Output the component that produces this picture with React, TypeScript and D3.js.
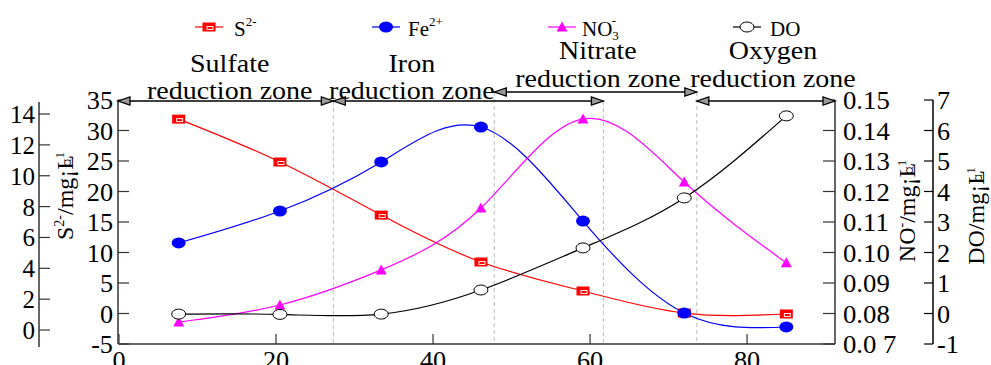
import React from "react";
import * as d3 from "d3";

// ---- data ----
const distance = [7.6, 20.5, 33.4, 46.1, 59.1, 72.0, 85.0];
const sulfide = [13.67, 10.89, 7.45, 4.41, 2.53, 1.1, 1.04]; // S2- mg/L
const iron = [11.56, 16.8, 24.84, 30.57, 15.16, 0.08, -2.21]; // Fe2+ mg/L
const nitrate = [0.0772, 0.0828, 0.0943, 0.1146, 0.1438, 0.1231, 0.0966]; // NO3- mg/L
const oxygen = [-0.02, -0.03, -0.02, 0.77, 2.15, 3.79, 6.48]; // DO mg/L

const xTicks = [0, 20, 40, 60, 80];
const feTicks = [-5, 0, 5, 10, 15, 20, 25, 30, 35];
const sTicks = [0, 2, 4, 6, 8, 10, 12, 14];
const no3Ticks = [0.07, 0.08, 0.09, 0.1, 0.11, 0.12, 0.13, 0.14, 0.15];
const no3Labels = ["0.0 7", "0.08", "0.09", "0.10", "0.11", "0.12", "0.13", "0.14", "0.15"];
const doTicks = [-1, 0, 1, 2, 3, 4, 5, 6, 7];

const zoneBounds = [27.3, 47.8, 61.7, 73.6];
const zoneNames = ["Sulfate", "Iron", "Nitrate", "Oxygen"];
const zoneLabelX = [14.1, 37.3, 61.0, 83.3];
const zoneStart = [0, 27.3, 47.8, 73.6];
const zoneEnd = [27.3, 61.7, 73.6, 91.2];
const zoneRow = [0, 0, 1, 0];

const FONT = "'Liberation Serif', 'Times New Roman', serif";

const Square = ({ x, y }: { x: number; y: number }) => (
  <g>
    <rect x={x - 6.5} y={y - 4.5} width={13} height={9} fill="#ff0000" />
    <rect x={x - 2} y={y - 0.5} width={6} height={3} fill="none" stroke="#fff" strokeWidth={0.9} />
  </g>
);
const Dot = ({ x, y }: { x: number; y: number }) => (
  <ellipse cx={x} cy={y} rx={7} ry={5.5} fill="#0000ff" />
);
const Tri = ({ x, y }: { x: number; y: number }) => (
  <path d={`M${x},${y - 5.5}L${x + 5.5},${y + 4.5}L${x - 5.5},${y + 4.5}Z`} fill="#ff00ff" />
);
const Circ = ({ x, y }: { x: number; y: number }) => (
  <ellipse cx={x} cy={y} rx={7} ry={5} fill="#fff" stroke="#000" strokeWidth={1} />
);

const T = ({
  x, y, anchor = "middle", size = 25, sx = 1.12, children,
}: { x: number; y: number; anchor?: string; size?: number; sx?: number; children: any }) => (
  <text transform={`translate(${x},${y}) scale(${sx},1)`} textAnchor={anchor as any} fontSize={size} fontFamily={FONT} fill="#000">
    {children}
  </text>
);

export default function App() {
  const W = 991, H = 365;
  const x = d3.scaleLinear().domain([0, 91.2]).range([119, 835]);
  const yFe = d3.scaleLinear().domain([-5, 35]).range([344, 100]);
  const yS = d3.scaleLinear().domain([-1.1, 14.78]).range([347, 102]);
  const yN = d3.scaleLinear().domain([0.07, 0.15]).range([344, 100]);
  const yD = d3.scaleLinear().domain([-1, 7]).range([344, 100]);

  const mk = (ys: number[], sc: d3.ScaleLinear<number, number>) =>
    d3.line<number>().x((_, i) => x(distance[i])).y((d) => sc(d)).curve(d3.curveNatural)(ys) || "";

  const rowY = [101, 92];
  const arrowHead = (tx: number, ty: number, dir: number) =>
    `M${tx},${ty}L${tx - dir * 12},${ty - 4}L${tx - dir * 12},${ty + 4}Z`;

  const legend = [
    { mx: 209, tx: 234, color: "#ff0000", M: Square, label: <><tspan>S</tspan><tspan dy={-10} fontSize={13}>2-</tspan></> },
    { mx: 386, tx: 408, color: "#0000ff", M: Dot, label: <><tspan>Fe</tspan><tspan dy={-10} fontSize={13}>2+</tspan></> },
    { mx: 562, tx: 582, color: "#ff00ff", M: Tri, label: <><tspan>NO</tspan><tspan dy={4} fontSize={13}>3</tspan><tspan dx={-7} dy={-15} fontSize={13}>-</tspan></> },
    { mx: 747, tx: 770, color: "#000", M: Circ, label: <><tspan>DO</tspan></> },
  ];

  const unit = (
    <>
      <tspan>/mg¡</tspan>
      <tspan>L</tspan>
      <tspan dx={-12} fontSize={17}>¤</tspan>
      <tspan dy={-9} fontSize={13}>1</tspan>
    </>
  );

  const axisColor = "#333";

  return (
    <svg width={W} height={H} style={{ position: "absolute", left: 0, top: 0, background: "#fff" }}>
      {/* dashed zone dividers */}
      {zoneBounds.map((b, i) => (
        <line key={i} x1={x(b)} x2={x(b)} y1={i === 1 || i === 3 ? 92 : 101} y2={344} stroke="#bbb" strokeWidth={1} strokeDasharray="4,3" />
      ))}

      {/* bottom x axis */}
      <line x1={119} x2={835} y1={344} y2={344} stroke={axisColor} strokeWidth={1.5} />
      {xTicks.map((t) => (
        <g key={t}>
          <line x1={x(t)} x2={x(t)} y1={344} y2={334} stroke={axisColor} strokeWidth={1.2} />
          <T x={x(t)} y={369} size={25} sx={1.05}>{t}</T>
        </g>
      ))}

      {/* Fe axis (left) */}
      <line x1={118} x2={118} y1={yFe(35)} y2={344} stroke={axisColor} strokeWidth={1.5} />
      {feTicks.map((t) => (
        <g key={t}>
          <line x1={118} x2={129} y1={yFe(t)} y2={yFe(t)} stroke={axisColor} strokeWidth={1.2} />
          <T x={113} y={yFe(t) + 9} anchor="end" size={25} sx={1.05}>{t}</T>
        </g>
      ))}

      {/* S axis (far left) */}
      <line x1={39} x2={39} y1={102} y2={347} stroke={axisColor} strokeWidth={1.5} />
      {sTicks.map((t) => (
        <g key={t}>
          <line x1={39} x2={50} y1={yS(t)} y2={yS(t)} stroke={axisColor} strokeWidth={1.2} />
          <T x={35} y={yS(t) + 9} anchor="end" size={25} sx={1.0}>{t}</T>
        </g>
      ))}

      {/* NO3 axis (right) */}
      <line x1={835} x2={835} y1={100} y2={344} stroke={axisColor} strokeWidth={1.5} />
      {no3Ticks.map((t, i) => (
        <g key={t}>
          <line x1={835} x2={823} y1={yN(t)} y2={yN(t)} stroke={axisColor} strokeWidth={1.2} />
          <T x={843} y={yN(t) + 9} anchor="start" size={25} sx={1.07}>{no3Labels[i]}</T>
        </g>
      ))}

      {/* DO axis (far right) */}
      <line x1={933} x2={933} y1={100} y2={344} stroke="#000" strokeWidth={1.5} />
      {doTicks.map((t) => (
        <g key={t}>
          <line x1={933} x2={924} y1={yD(t)} y2={yD(t)} stroke="#000" strokeWidth={1.2} />
          <T x={937} y={yD(t) + 9} anchor="start" size={25} sx={1.05}>{t}</T>
        </g>
      ))}

      {/* axis titles */}
      <text transform="translate(73,196) rotate(-90)" textAnchor="middle" fontSize={24} fontFamily={FONT}>
        <tspan>S</tspan><tspan dy={-9} fontSize={14}>2-</tspan><tspan dy={9}>/mg¡</tspan><tspan>L</tspan><tspan dx={-12} fontSize={17}>¤</tspan><tspan dy={-9} fontSize={13}>1</tspan>
      </text>
      <text transform="translate(915,211) rotate(-90)" textAnchor="middle" fontSize={24} fontFamily={FONT}>
        <tspan>NO</tspan><tspan dy={-9} fontSize={14}>-</tspan><tspan dy={9}>/mg¡</tspan><tspan>L</tspan><tspan dx={-12} fontSize={17}>¤</tspan><tspan dy={-9} fontSize={13}>1</tspan>
      </text>
      <text transform="translate(984,216) rotate(-90)" textAnchor="middle" fontSize={24} fontFamily={FONT}>
        <tspan>DO</tspan>{unit}
      </text>

      {/* zone arrows */}
      {zoneNames.map((n, i) => {
        const y0 = rowY[zoneRow[i]];
        const a = x(zoneStart[i]) - (i === 0 ? 1 : 0);
        const b = x(zoneEnd[i]);
        return (
          <g key={n}>
            <line x1={a} x2={b} y1={y0} y2={y0} stroke="#000" strokeWidth={1.3} />
            <path d={arrowHead(a, y0, -1)} fill="#999" stroke="#000" strokeWidth={1.3} />
            <path d={arrowHead(b, y0, 1)} fill="#999" stroke="#000" strokeWidth={1.3} />
          </g>
        );
      })}

      {/* zone labels */}
      {zoneNames.map((n, i) => {
        const top = zoneRow[i] === 0 && i < 2 ? 72 : 59;
        const bot = zoneRow[i] === 0 && i < 2 ? 99 : 87;
        return (
          <g key={n}>
            <T x={x(zoneLabelX[i])} y={top}>{n}</T>
            <T x={x(zoneLabelX[i])} y={bot}>reduction zone</T>
          </g>
        );
      })}

      {/* series lines */}
      <path d={mk(sulfide, yS)} fill="none" stroke="#ff0000" strokeWidth={1.2} />
      <path d={mk(iron, yFe)} fill="none" stroke="#0000ff" strokeWidth={1.2} />
      <path d={mk(nitrate, yN)} fill="none" stroke="#ff00ff" strokeWidth={1.2} />
      <path d={mk(oxygen, yD)} fill="none" stroke="#000" strokeWidth={1.2} />

      {/* markers */}
      {sulfide.map((v, i) => <Square key={"s" + i} x={x(distance[i])} y={yS(v)} />)}
      {iron.map((v, i) => <Dot key={"f" + i} x={x(distance[i])} y={yFe(v)} />)}
      {nitrate.map((v, i) => <Tri key={"n" + i} x={x(distance[i])} y={yN(v)} />)}
      {oxygen.map((v, i) => <Circ key={"o" + i} x={x(distance[i])} y={yD(v)} />)}

      {/* legend */}
      {legend.map((l, i) => (
        <g key={i}>
          <line x1={l.mx - 14} x2={l.mx + 14} y1={27} y2={27} stroke={l.color} strokeWidth={1.2} />
          <l.M x={l.mx} y={27} />
          <text x={l.tx} y={36} fontSize={21} fontFamily={FONT}>{l.label}</text>
        </g>
      ))}
    </svg>
  );
}
